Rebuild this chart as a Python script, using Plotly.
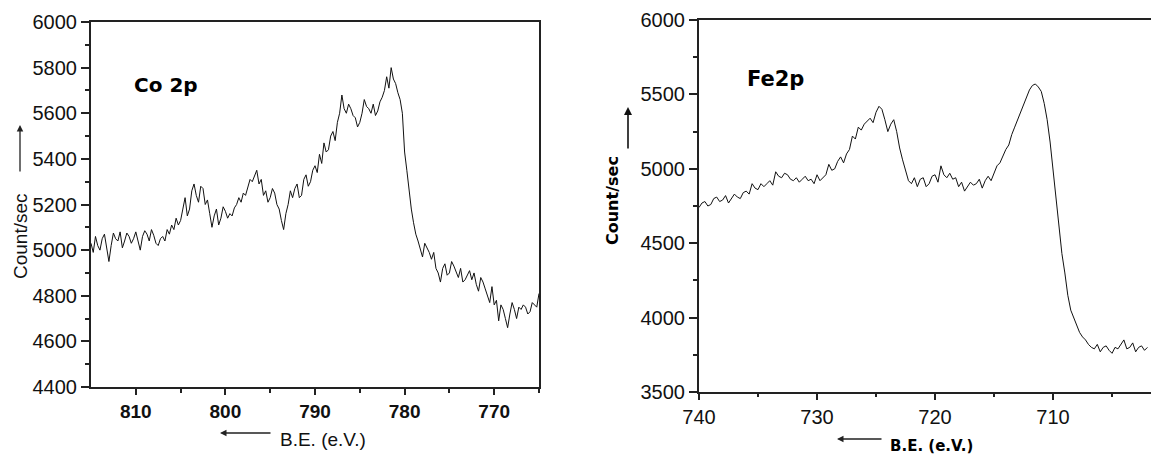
import plotly.graph_objects as go

# Co 2p spectrum, binding energy 815 -> 765 eV in 0.25 eV steps (counts/sec)
co_start, co_step = 815.0, -0.25
co_counts = [
    5030, 4990, 5060, 5020, 5000, 5050, 5070, 5010, 4950, 5020,
    5075, 5050, 5040, 5080, 5010, 5040, 5075, 5060, 5030, 5050,
    5080, 5040, 5000, 5060, 5085, 5070, 5040, 5090, 5065, 5030,
    5020, 5050, 5060, 5040, 5090, 5070, 5110, 5090, 5140, 5110,
    5130, 5180, 5230, 5150, 5180, 5260, 5290, 5240, 5210, 5280,
    5270, 5200, 5220, 5160, 5100, 5150, 5180, 5110, 5140, 5190,
    5170, 5140, 5160, 5150, 5185, 5200, 5230, 5210, 5250, 5240,
    5280, 5310, 5300, 5330, 5350, 5290, 5310, 5240, 5260, 5210,
    5230, 5270, 5250, 5200, 5180, 5130, 5090, 5160, 5200, 5260,
    5230, 5270, 5290, 5230, 5240, 5310, 5330, 5280, 5300, 5350,
    5370, 5340, 5420, 5380, 5470, 5430, 5440, 5500, 5520, 5480,
    5560, 5600, 5680, 5620, 5600, 5640, 5620, 5590, 5580, 5540,
    5560, 5600, 5660, 5630, 5620, 5600, 5640, 5590, 5610, 5650,
    5670, 5700, 5760, 5710, 5800, 5750, 5730, 5690, 5660, 5600,
    5430, 5350, 5260, 5180, 5120, 5070, 5040, 5010, 4970, 5030,
    5010, 4990, 4960, 4990, 4920, 4900, 4860, 4920, 4940, 4890,
    4900, 4950, 4930, 4900, 4880, 4920, 4860, 4870, 4890, 4910,
    4870, 4900, 4850, 4820, 4880, 4860, 4830, 4800, 4770, 4840,
    4760, 4780, 4690, 4760, 4740, 4700, 4660, 4720, 4770, 4740,
    4700, 4750, 4740, 4760, 4750, 4720, 4730, 4770, 4760, 4750,
    4810,
]

# Fe 2p spectrum, binding energy 740 -> 702 eV in 0.25 eV steps (counts/sec)
fe_start, fe_step = 740.0, -0.25
fe_counts = [
    4740, 4770, 4780, 4750, 4760, 4800, 4810, 4780, 4790, 4820,
    4770, 4800, 4830, 4810, 4800, 4840, 4850, 4830, 4900, 4870,
    4860, 4900, 4880, 4900, 4920, 4890, 4980, 4950, 4940, 4970,
    4960, 4930, 4920, 4940, 4910, 4930, 4950, 4920, 4930, 4900,
    4960, 4920, 4940, 4960, 5030, 4990, 5000, 5050, 5080, 5040,
    5100, 5130, 5220, 5200, 5280, 5260, 5300, 5320, 5340, 5310,
    5380, 5420, 5400, 5330, 5250, 5300, 5330, 5250, 5140, 5060,
    4990, 4920, 4900, 4940, 4880, 4930, 4940, 4880, 4900, 4950,
    4960, 4910, 5020, 4960, 4940, 4970, 4930, 4940, 4880, 4910,
    4850, 4880, 4910, 4890, 4900, 4930, 4870, 4920, 4950, 4920,
    4970, 5020, 5040, 5090, 5130, 5160, 5230, 5280, 5330, 5390,
    5440, 5490, 5530, 5560, 5570, 5550, 5520, 5440, 5330, 5180,
    5000, 4800, 4600, 4430, 4300, 4150, 4050, 4000, 3960, 3900,
    3870, 3850, 3820, 3800, 3790, 3820, 3770, 3800, 3810, 3780,
    3760, 3800, 3790, 3820, 3850, 3790, 3800, 3830, 3770, 3800,
    3810, 3780, 3800,
]

co_be = [co_start + co_step * i for i in range(len(co_counts))]
fe_be = [fe_start + fe_step * i for i in range(len(fe_counts))]

co_yticks = [4400, 4600, 4800, 5000, 5200, 5400, 5600, 5800, 6000]
co_xticks = [810, 800, 790, 780, 770]
fe_yticks = [3500, 4000, 4500, 5000, 5500, 6000]
fe_xticks = [740, 730, 720, 710]

W, H = 1151, 457
REG = "Liberation Sans, Arial, sans-serif"
HEAVY = "DejaVu Sans, sans-serif"

fig = go.Figure()
fig.add_trace(go.Scatter(x=co_be, y=co_counts, mode="lines",
                         line=dict(color="#111", width=1), xaxis="x", yaxis="y",
                         showlegend=False))
fig.add_trace(go.Scatter(x=fe_be, y=fe_counts, mode="lines",
                         line=dict(color="#111", width=1), xaxis="x2", yaxis="y2",
                         showlegend=False))

def px_x(p):
    return p / W

def px_y(p):
    return 1 - p / H

common = dict(showgrid=False, zeroline=False, showline=True, linewidth=2,
              linecolor="#222", ticks="outside", tickcolor="#222", tickwidth=1.5,
              automargin=False)

fig.update_layout(
    template="none",
    width=W, height=H,
    margin=dict(l=0, r=0, t=0, b=0, pad=0),
    paper_bgcolor="white", plot_bgcolor="white",
    xaxis=dict(domain=[px_x(91), px_x(539)], range=[815, 765], anchor="y",
               tickvals=co_xticks, ticklen=6, mirror=True,
               tickfont=dict(family=REG, size=19, color="#111", weight="bold"),
               minor=dict(tickvals=[805, 795, 785, 775, 765], ticklen=4,
                          ticks="outside", tickcolor="#222", tickwidth=1.5),
               **common),
    yaxis=dict(domain=[px_y(387), px_y(22)], range=[4400, 6000], anchor="x",
               tickvals=co_yticks, ticklen=8, mirror=True,
               tickfont=dict(family=REG, size=20, color="#111"),
               minor=dict(tickvals=[4500, 4700, 4900, 5100, 5300, 5500, 5700, 5900],
                          ticklen=4, ticks="outside", tickcolor="#222", tickwidth=1.5),
               **common),
    xaxis2=dict(domain=[px_x(699), 1.0], range=[740, 701.7], anchor="y2",
                tickvals=fe_xticks, ticklen=6, mirror=True,
                tickfont=dict(family=REG, size=20, color="#111"),
                minor=dict(tickvals=[735, 725, 715, 705], ticklen=3,
                           ticks="outside", tickcolor="#222", tickwidth=1.5),
                **common),
    yaxis2=dict(domain=[px_y(392), px_y(20)], range=[3500, 6000], anchor="x2",
                tickvals=fe_yticks, ticklen=8, mirror=False,
                tickfont=dict(family=REG, size=20, color="#111"),
                minor=dict(tickvals=[3750, 4250, 4750, 5250, 5750], ticklen=4,
                           ticks="outside", tickcolor="#222", tickwidth=1.5),
                **common),
)

annotations = [
    # panel labels
    dict(x=px_x(132), y=px_y(85), text="<b>Co 2p</b>", xanchor="left", yanchor="middle",
         font=dict(family=HEAVY, size=20, color="#000")),
    dict(x=px_x(745), y=px_y(79), text="<b>Fe2p</b>", xanchor="left", yanchor="middle",
         font=dict(family=HEAVY, size=21, color="#000")),
    # y-axis titles
    dict(x=px_x(20), y=px_y(236), text="Count/sec", textangle=-90,
         xanchor="center", yanchor="middle",
         font=dict(family=REG, size=19, color="#111")),
    dict(x=px_x(612), y=px_y(201), text="<b>Count/sec</b>", textangle=-90,
         xanchor="center", yanchor="middle",
         font=dict(family=HEAVY, size=16, color="#000")),
    # x-axis titles
    dict(x=px_x(278), y=px_y(439), text="B.E. (e.V.)", xanchor="left", yanchor="middle",
         font=dict(family=REG, size=19, color="#111")),
    dict(x=px_x(888), y=px_y(446), text="<b>B.E. (e.V.)</b>", xanchor="left",
         yanchor="middle", font=dict(family=HEAVY, size=15, color="#000")),
    # direction arrows
    dict(x=px_x(20), y=px_y(125), ax=0, ay=48, text="", showarrow=True,
         arrowhead=2, arrowsize=1, arrowwidth=1.3, arrowcolor="#222"),
    dict(x=px_x(628), y=px_y(107), ax=0, ay=43, text="", showarrow=True,
         arrowhead=2, arrowsize=1, arrowwidth=1.6, arrowcolor="#111"),
    dict(x=px_x(220), y=px_y(433), ax=52, ay=0, text="", showarrow=True,
         arrowhead=2, arrowsize=1, arrowwidth=1.3, arrowcolor="#222"),
    dict(x=px_x(837), y=px_y(439), ax=46, ay=0, text="", showarrow=True,
         arrowhead=2, arrowsize=1, arrowwidth=1.3, arrowcolor="#222"),
]
for a in annotations:
    a.setdefault("xref", "paper")
    a.setdefault("yref", "paper")
    a.setdefault("showarrow", False)
fig.update_layout(annotations=annotations)

fig.write_html("out.html")
